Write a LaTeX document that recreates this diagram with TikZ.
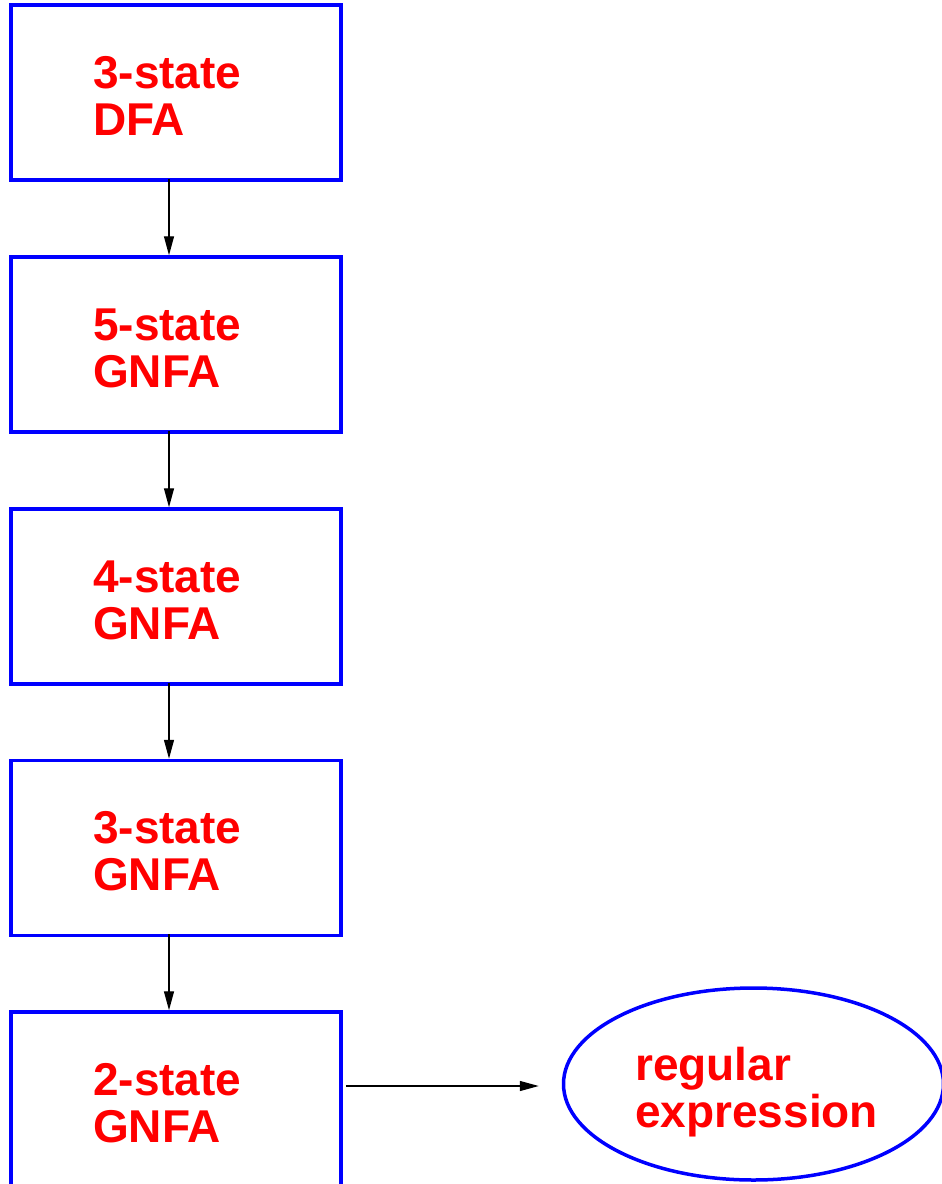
\documentclass[tikz,border=0pt]{standalone}
\usepackage{fontspec}
\setmainfont{Liberation Sans}
\usetikzlibrary{shapes.geometric,arrows.meta}
\definecolor{boxblue}{RGB}{0,0,255}
\definecolor{txtred}{RGB}{255,0,0}
\begin{document}
\begin{tikzpicture}[x=1pt,y=-1pt,
  box/.style={draw=boxblue, line width=3.5pt, minimum width=330pt, minimum height=175pt, inner sep=0pt},
  oval/.style={draw=boxblue, line width=3.5pt, ellipse, minimum width=380pt, minimum height=192pt, inner sep=0pt},
  lbl/.style={text=txtred, font=\bfseries\fontsize{46}{47}\selectfont, align=left, inner sep=0pt, anchor=base west},
  conn/.style={draw=black, line width=1.3pt, -{Triangle[length=19pt,width=10pt]}}]
\clip (0,0) rectangle (942,1184);
\useasboundingbox (0,0) rectangle (942,1184);
\node[box] (b1) at (176,92.5) {};
\node[box] (b2) at (176,344.5) {};
\node[box] (b3) at (176,596.5) {};
\node[box] (b4) at (176,848) {};
\node[box] (b5) at (176,1099.5) {};
\node[oval] (re) at (753.5,1084) {};
\node[lbl] (t1) at (93,135) {3-state\\DFA};
\node[lbl] (t2) at (93,387) {5-state\\GNFA};
\node[lbl] (t3) at (93,639) {4-state\\GNFA};
\node[lbl] (t4) at (93,890) {3-state\\GNFA};
\node[lbl] (t5) at (93,1142) {2-state\\GNFA};
\node[lbl] (t6) at (635,1127) {regular\\expression};
\draw[conn] ([xshift=-7pt,yshift=3pt]b1.south) -- ([xshift=-7pt]b2.north);
\draw[conn] ([xshift=-7pt,yshift=3pt]b2.south) -- ([xshift=-7pt]b3.north);
\draw[conn] ([xshift=-7pt,yshift=3pt]b3.south) -- ([xshift=-7pt]b4.north);
\draw[conn] ([xshift=-7pt,yshift=3pt]b4.south) -- ([xshift=-7pt]b5.north);
\coordinate (reIn) at ([xshift=-23pt,yshift=-2pt]re.west);
\coordinate (b5out) at ([xshift=3pt]b5.east |- reIn);
\draw[conn] (b5out) -- (reIn);
\end{tikzpicture}
\end{document}
